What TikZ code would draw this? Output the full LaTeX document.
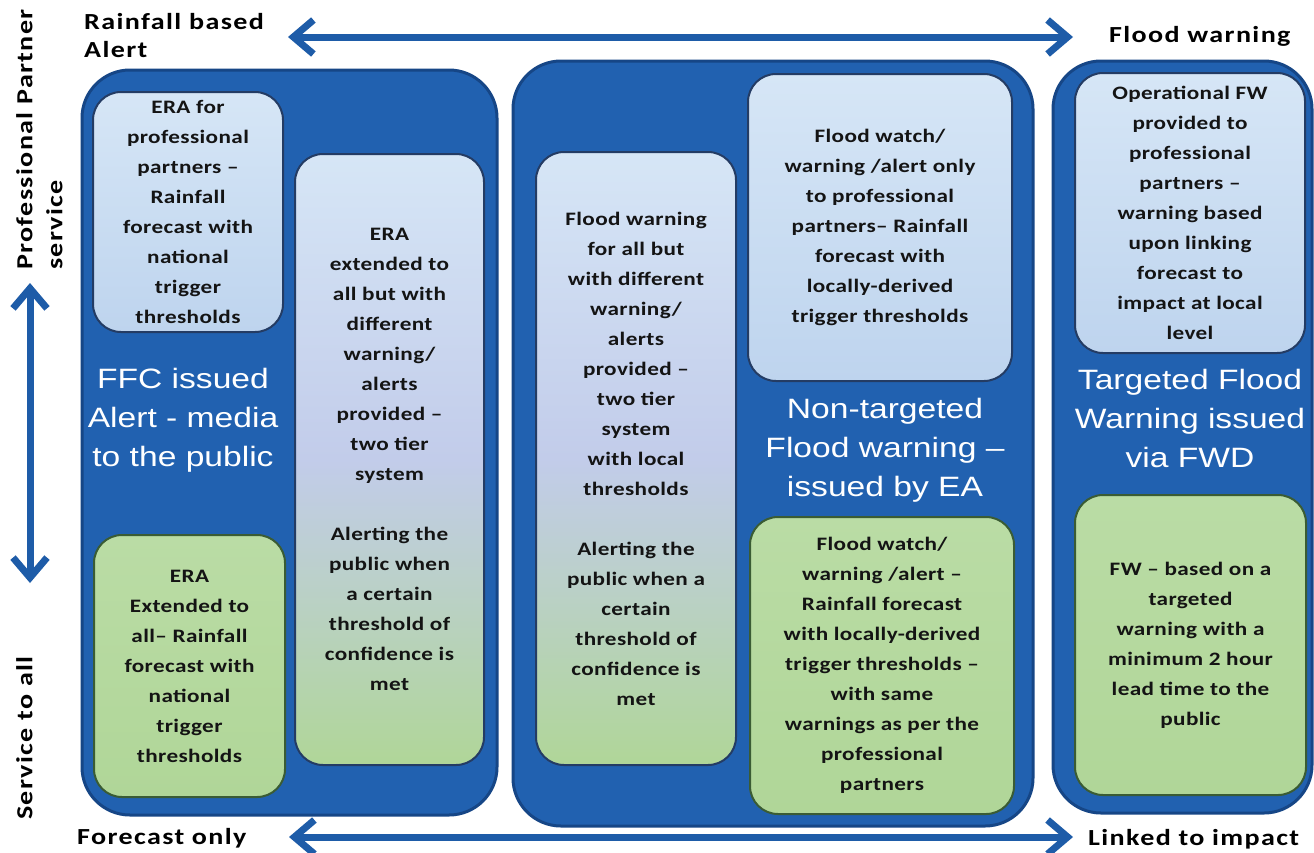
\documentclass[tikz,border=0pt]{standalone}
\usepackage{fontspec}
\usetikzlibrary{arrows.meta}
\newfontfamily\bodyf[FakeStretch=1.22,LetterSpace=2]{Carlito}
\newfontfamily\labf[FakeStretch=1.22,LetterSpace=6]{Carlito}
\newfontfamily\whitef[FakeStretch=1.2]{Liberation Sans}
\definecolor{bigfill}{RGB}{33,97,176}
\definecolor{bigborder}{RGB}{22,70,134}
\definecolor{navyborder}{RGB}{36,60,100}
\definecolor{greenborder}{RGB}{58,92,52}
\definecolor{lbtop}{RGB}{214,230,246}
\definecolor{lbbot}{RGB}{190,212,238}
\definecolor{lav}{RGB}{194,204,234}
\definecolor{gtop}{RGB}{186,220,165}
\definecolor{gbot}{RGB}{176,214,152}
\definecolor{arrowblue}{RGB}{30,92,168}
\definecolor{txt}{RGB}{20,20,20}
\begin{document}
\begin{tikzpicture}[x=1pt,y=-1pt,
  bigbox/.style={draw=bigborder,line width=3pt,fill=bigfill,rounded corners=48pt,inner sep=0pt},
  probox/.style={draw=navyborder,line width=2pt,top color=lbtop,bottom color=lbbot,
    rounded corners=28pt,inner sep=0pt,align=center,text=txt,
    font=\bodyf\bfseries\fontsize{19}{30}\selectfont},
  allbox/.style={probox,draw=greenborder,top color=gtop,bottom color=gbot},
  mixbox/.style={probox,top color=lbtop,bottom color=gbot,middle color=lav},
  whitetext/.style={text=white,align=center,inner sep=0pt,
    font=\whitef\fontsize{28}{39}\selectfont},
  sidelabel/.style={inner sep=0pt,text=black,font=\labf\bfseries\fontsize{23}{28}\selectfont},
  conn/.style={draw=arrowblue,line width=7pt,
    arrows={Straight Barb[length=20pt,width=34pt]-Straight Barb[length=20pt,width=34pt]}}
]
\useasboundingbox[fill=white] (0,0) rectangle (1314,852);

% big containers
\node[bigbox,minimum width=415pt,minimum height=745pt] (L) at (289.5,442.5) {};
\node[bigbox,minimum width=520pt,minimum height=765pt] (M) at (773,443.5) {};
\node[bigbox,minimum width=259pt,minimum height=752pt] (R) at (1182.5,437) {};

% left group
\node[probox,minimum width=190pt,minimum height=240pt] (LA) at (188,212)
  {ERA for\\professional\\partners –\\Rainfall\\forecast with\\national\\trigger\\thresholds};
\node[mixbox,minimum width=189pt,minimum height=611pt] (LB) at (389.5,459.5)
  {ERA\\extended to\\all but with\\different\\warning/\\alerts\\provided –\\two tier\\system\\[30pt]
   Alerting the\\public when\\a certain\\threshold of\\confidence is\\met};
\node[allbox,minimum width=191pt,minimum height=262pt] (LC) at (189.5,666)
  {ERA\\Extended to\\all– Rainfall\\forecast with\\national\\trigger\\thresholds};
\node[whitetext] (LT) at (183,420) {FFC issued\\Alert - media\\to the public};

% middle group
\node[mixbox,minimum width=200pt,minimum height=613pt] (MA) at (636,458.5)
  {Flood warning\\for all but\\with different\\warning/\\alerts\\provided –\\two tier\\system\\with local\\thresholds\\[30pt]
   Alerting the\\public when a\\certain\\threshold of\\confidence is\\met};
\node[probox,minimum width=264pt,minimum height=307pt] (MB) at (880,227.5)
  {Flood watch/\\warning /alert only\\to professional\\partners– Rainfall\\forecast with\\locally-derived\\trigger thresholds};
\node[allbox,minimum width=264pt,minimum height=297pt] (MC) at (882,665.5)
  {Flood watch/\\warning /alert –\\Rainfall forecast\\with locally-derived\\trigger thresholds –\\with same\\warnings as per the\\professional\\partners};
\node[whitetext] (MT) at (885,450) {Non-targeted\\Flood warning –\\issued by EA};

% right group
\node[probox,minimum width=230pt,minimum height=280pt] (RA) at (1190,213)
  {Operational FW\\provided to\\professional\\partners –\\warning based\\upon linking\\forecast to\\impact at local\\level};
\node[allbox,minimum width=231pt,minimum height=300pt] (RB) at (1190.5,645)
  {FW – based on a\\targeted\\warning with a\\minimum 2 hour\\lead time to the\\public};
\node[whitetext] (RT) at (1190,418) {Targeted Flood\\Warning issued\\via FWD};

% axis labels
\node[sidelabel,align=left,anchor=north west] (rba) at (84,13) {Rainfall based\\Alert};
\node[sidelabel,anchor=base west] (fw) at (1109,42) {Flood warning};
\node[sidelabel,anchor=base west] (fo) at (77,844) {Forecast only};
\node[sidelabel,anchor=base west] (li) at (1088,845) {Linked to impact};
\node[sidelabel,rotate=90,align=left,anchor=north west,
  font=\labf\bfseries\fontsize{23}{30}\selectfont] (pps) at (16,270) {Professional Partner\\service};
\node[sidelabel,rotate=90,anchor=north west] (sta) at (16,820) {Service to all};

% axis arrows
\coordinate (tl) at (288,37);
\coordinate (tr) at (1073,37);
\coordinate (bl) at (289,837);
\coordinate (br) at (1073,837);
\coordinate (vt) at (30,283);
\coordinate (vb) at (30,583);
\draw[conn] (tl) -- (tr);
\draw[conn] (bl) -- (br);
\draw[conn] (vt) -- (vb);
\end{tikzpicture}
\end{document}
